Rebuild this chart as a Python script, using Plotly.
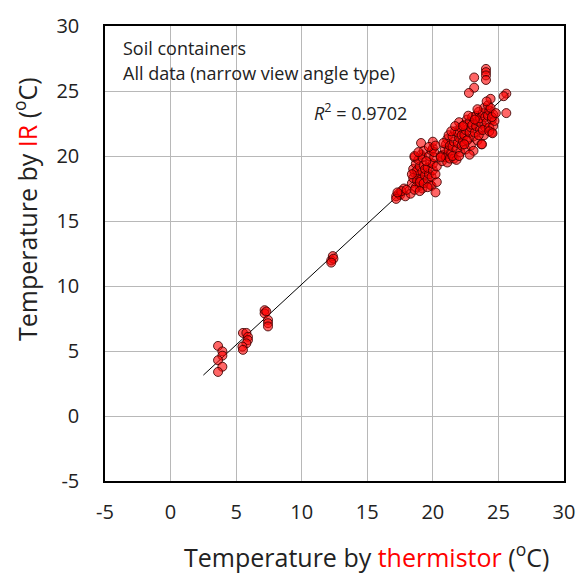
import numpy as np
import plotly.graph_objects as go

# Paired readings: thermistor (x) vs infrared (y), degrees C
low_x = [3.62, 3.95, 3.95, 3.62, 3.95, 3.62,
         5.52, 5.78, 5.90, 5.90, 5.78, 5.48, 5.52,
         7.17, 7.17, 7.30, 7.43, 7.43, 7.43,
         12.25, 12.37, 12.42, 12.25]
low_y = [5.39, 4.97, 4.64, 4.29, 3.79, 3.39,
         6.39, 6.39, 6.09, 5.84, 5.59, 5.34, 5.09,
         8.14, 7.89, 8.04, 7.39, 7.14, 6.89,
         11.97, 12.30, 12.10, 11.80]

cluster_a_x = [17.2, 17.4, 17.5, 17.8, 17.9, 17.2, 18.3, 17.6, 17.3, 18.0]
cluster_a_y = [16.9, 17.1, 17.0, 17.5, 16.9, 16.7, 17.1, 17.3, 17.2, 17.4]

cluster_b_x = [18.4, 18.5, 18.6, 18.5, 18.7, 18.6, 18.8, 18.9, 18.8, 19.0,
               18.9, 19.1, 19.0, 19.2, 18.7, 19.1, 19.2, 19.3, 19.2, 19.3,
               19.1, 18.6, 18.4, 19.0, 18.9, 19.4, 19.4, 19.3, 18.6, 19.0,
               19.6, 19.7, 19.6, 19.8, 19.7, 19.9, 19.8, 19.9, 20.0, 20.0,
               20.1, 20.0, 20.0, 19.9, 20.2, 20.3, 20.2, 20.1, 20.3, 19.5,
               19.7, 20.2, 19.6]
cluster_b_y = [17.9, 18.3, 18.7, 19.0, 19.4, 19.9, 18.1, 18.5, 18.9, 19.2,
               19.7, 20.1, 17.7, 17.5, 17.6, 18.2, 18.8, 19.3, 19.9, 20.4,
               21.0, 20.0, 18.6, 18.0, 20.3, 18.5, 19.0, 17.9, 17.4, 17.3,
               18.2, 18.6, 19.1, 19.5, 20.0, 20.4, 17.8, 18.4, 18.9, 19.4,
               19.9, 20.6, 21.1, 17.7, 17.2, 18.0, 18.6, 20.3, 19.2, 19.6,
               20.7, 20.8, 17.6]

cluster_c_x = [20.7, 20.8, 20.9, 21.0, 21.1, 20.6, 21.0, 21.2, 21.1, 20.8,
               21.3, 21.2, 20.6, 21.3,
               21.4, 21.5, 21.6, 21.5, 21.7, 21.8, 21.9, 22.0, 21.9, 22.1,
               22.0, 21.6, 21.8, 22.1, 22.2, 21.4, 21.7, 22.2, 21.5, 22.0,
               22.3, 22.4, 22.5, 22.4, 22.6, 22.7, 22.8, 22.9, 22.8, 23.0,
               22.5, 22.9, 23.1, 23.0, 22.3, 22.6, 22.7, 22.4, 23.1, 22.8,
               23.2, 23.3, 23.4, 23.3, 23.5, 23.6, 23.7, 23.6, 23.8, 23.9,
               23.4, 23.7, 23.9, 24.0, 23.5, 23.8, 24.0, 23.2, 23.4,
               24.1, 24.2, 24.3, 24.2, 24.4, 24.3, 24.5, 24.6, 24.4, 24.5,
               24.6, 24.1, 24.7, 24.3, 24.5, 24.8,
               25.6, 25.4, 25.6,
               23.15, 23.15, 24.05, 24.05, 24.05, 24.05, 22.75, 24.55, 23.75]
cluster_c_y = [19.6, 20.1, 20.5, 20.9, 21.3, 20.0, 19.9, 20.4, 19.5, 21.0,
               20.8, 21.6, 19.9, 19.8,
               20.2, 20.7, 21.1, 21.5, 21.9, 20.5, 21.0, 21.4, 21.8, 22.2,
               22.6, 19.8, 19.7, 20.3, 20.8, 21.9, 22.3, 21.6, 20.0, 20.0,
               21.1, 21.6, 22.0, 22.4, 22.8, 21.3, 21.8, 22.2, 22.6, 23.0,
               20.5, 20.8, 21.5, 22.4, 22.3, 21.2, 23.1, 20.9, 20.4, 20.1,
               21.8, 22.3, 22.7, 23.1, 23.4, 22.0, 22.5, 22.9, 23.3, 23.7,
               21.2, 20.9, 21.6, 22.2, 21.6, 22.0, 23.0, 22.8, 23.6,
               22.6, 23.1, 23.5, 23.9, 24.4, 22.2, 22.8, 23.2, 23.7, 21.8,
               22.3, 24.2, 22.7, 21.9, 23.0, 23.3,
               24.8, 24.6, 23.3,
               26.04, 25.25, 26.70, 26.45, 26.20, 25.85, 24.85, 21.75, 20.90]

tick_values = [-5, 0, 5, 10, 15, 20, 25, 30]
tick_labels = ["-5", "0", "5", "10", "15", "20", "25", "30"]

thermistor = np.array(low_x + cluster_a_x + cluster_b_x + cluster_c_x)
infrared = np.array(low_y + cluster_a_y + cluster_b_y + cluster_c_y)

# Linear trendline, drawn a little beyond the data on the low side
slope, intercept = np.polyfit(thermistor, infrared, 1)
trend_x = np.array([2.5, 25.8])
trend_y = slope * trend_x + intercept

FONT = "Open Sans"

fig = go.Figure()
fig.add_trace(go.Scatter(
    x=trend_x, y=trend_y, mode="lines",
    line=dict(color="black", width=1), hoverinfo="skip", showlegend=False,
))
fig.add_trace(go.Scatter(
    x=thermistor, y=infrared, mode="markers",
    marker=dict(size=9, color="rgba(255,0,0,0.6)",
                line=dict(color="rgba(60,0,0,0.85)", width=1)),
    showlegend=False,
))

axis_common = dict(
    range=[-5, 30], tickmode="array", tickvals=tick_values, ticktext=tick_labels,
    showgrid=True, gridcolor="#b8b8b8", gridwidth=1,
    zeroline=False, showline=True, linecolor="black", linewidth=1.5,
    mirror=True, ticks="", tickfont=dict(family=FONT, size=20, color="#222"),
)

fig.update_layout(
    width=587, height=574,
    margin=dict(l=105, r=22, t=15, b=93),
    paper_bgcolor="white", plot_bgcolor="white",
    xaxis=dict(**axis_common, ticklabelstandoff=12),
    yaxis=dict(**axis_common, ticklabelstandoff=20),
    font=dict(family=FONT, color="#222"),
    annotations=[
        dict(text="Soil containers", xref="paper", yref="paper",
             x=0.034, y=0.952, xanchor="left", yanchor="middle",
             showarrow=False, font=dict(size=18)),
        dict(text="All data (narrow view angle type)", xref="paper", yref="paper",
             x=0.034, y=0.897, xanchor="left", yanchor="middle",
             showarrow=False, font=dict(size=18)),
        dict(text="<i>R</i><sup>2</sup> = 0.9702", xref="paper", yref="paper",
             x=0.450, y=0.812, xanchor="left", yanchor="middle",
             showarrow=False, font=dict(size=18)),
        dict(text="Temperature by <span style='color:red'>thermistor</span> (<sup>o</sup>C)",
             xref="paper", yref="paper", x=0.57, y=-0.163,
             xanchor="center", yanchor="middle", showarrow=False,
             font=dict(size=25)),
        dict(text="Temperature by <span style='color:red'>IR</span> (<sup>o</sup>C)",
             xref="paper", yref="paper", x=-0.172, y=0.598, textangle=-90,
             xanchor="center", yanchor="middle", showarrow=False,
             font=dict(size=25)),
    ],
)

fig.write_html("out.html")
